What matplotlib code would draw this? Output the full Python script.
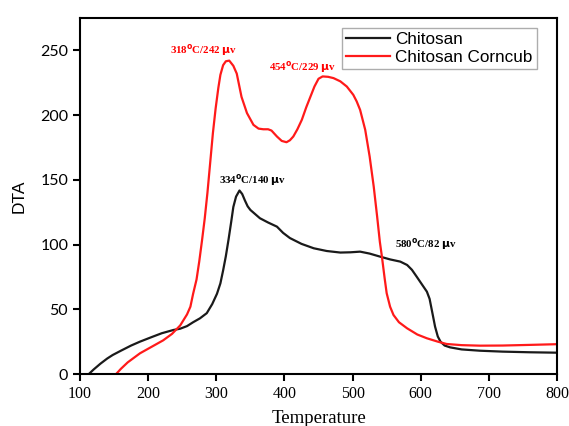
import matplotlib
matplotlib.use('Agg')
import matplotlib.pyplot as plt

# Chitosan DTA curve
temp_chitosan = [113, 120, 130, 140, 148, 160, 175, 188, 205, 220, 237, 247, 257, 266, 276,
                 286, 294, 301, 306, 310, 314, 318, 322, 325, 329, 334, 338, 342, 346, 350,
                 357, 364, 376, 389, 398, 408, 425, 443, 462, 482, 497, 511, 525, 540, 555,
                 570, 580, 587, 594, 602, 609, 613, 616, 619, 621, 625, 629, 635, 643, 660,
                 687, 720, 760, 797]
dta_chitosan = [0, 3.5, 8, 12, 14.7, 18, 22, 25, 28.5, 31.5, 34, 35, 37, 40, 43,
                47, 54, 62, 70, 80, 91, 104, 118, 129, 137, 141.7, 139, 134, 129.5, 126.7,
                123.5, 120.3, 117, 113.8, 109, 105, 100.5, 97.1, 95, 93.8, 94, 94.5, 93, 90.7, 88.5,
                86.8, 84.2, 80.5, 75.2, 69, 63.6, 58, 50, 42, 36.6, 29, 25, 22, 20.6, 19,
                18, 17.3, 16.8, 16.5]

# Chitosan Corncub DTA curve
temp_corncub = [153, 160, 170, 188, 205, 222, 235, 247, 257, 262, 266, 271, 275, 279,
                283, 287, 291, 295, 299, 303, 306, 310, 314, 319, 325, 330, 337, 345, 354.5,
                362, 369, 376, 381, 389, 396, 403, 408, 413, 419, 425.5, 432, 438, 444, 450,
                456, 464, 472, 482, 491.5, 501, 506, 511, 518.5, 525, 531, 536, 540, 543,
                547, 550, 555, 560, 568, 580, 595, 609, 625, 638, 660, 687, 720, 760, 797]
dta_corncub = [0, 4, 9, 16, 21, 26, 31, 37.5, 46, 52, 62, 73, 87, 103,
               120, 140, 163, 186, 205, 221, 231, 238.5, 241.5, 242, 238, 232, 214, 201.5, 192.4,
               189.5, 189, 189, 188, 183.4, 180, 179, 180.5, 183.4, 189, 196.3, 206, 214, 222, 228,
               229.8, 229.5, 228.5, 226, 222, 215.6, 210.5, 204, 188.6, 168, 144.7, 121.6, 102, 90.7,
               74, 62.4, 52, 45.6, 40, 35.3, 30.5, 27.6, 25, 23.2, 22.3, 21.9, 22, 22.5, 23]

# peak labels: (text, x, y, colour)
peak_labels = [
    (r'318$^{\mathbf{o}}$C/242 $\mathbf{\mu}$v', 282, 250, 'red'),
    (r'454$^{\mathbf{o}}$C/229 $\mathbf{\mu}$v', 426, 237, 'red'),
    (r'334$^{\mathbf{o}}$C/140 $\mathbf{\mu}$v', 353, 150, 'black'),
    (r'580$^{\mathbf{o}}$C/82 $\mathbf{\mu}$v', 607, 100.5, 'black'),
]

fig = plt.figure(figsize=(5.69, 4.26), dpi=100)
ax = fig.add_axes([0.1406, 0.122, 0.8384, 0.836])

ax.plot(temp_chitosan, dta_chitosan, color='#1a1a1a', lw=1.6, label='Chitosan')
ax.plot(temp_corncub, dta_corncub, color='#ff1a1a', lw=1.6, label='Chitosan Corncub')

for txt, x, y, c in peak_labels:
    ax.text(x, y, txt, color=c, ha='center', va='center', fontsize=7.8,
            fontweight='bold', family='Liberation Serif')

ax.set_xlim(100, 800)
ax.set_ylim(0, 275)
ax.set_xticks(range(100, 801, 100))
ax.set_yticks(range(0, 251, 50))
for sp in ax.spines.values():
    sp.set_linewidth(1.5)
ax.tick_params(axis='both', direction='out', width=1.5, length=5)
for lab in ax.get_xticklabels():
    lab.set_family('Liberation Serif')
    lab.set_fontsize(11.5)
for lab in ax.get_yticklabels():
    lab.set_family('Lato')
    lab.set_fontsize(11.5)

ax.set_xlabel('Temperature', family='Liberation Serif', fontsize=13.5, labelpad=6)
ax.set_ylabel('DTA', family='Liberation Sans', fontsize=12.5, labelpad=10)

leg = ax.legend(loc='upper right', bbox_to_anchor=(0.958, 0.973), fancybox=False,
                prop={'family': 'Liberation Sans', 'size': 12.3}, handlelength=2.6,
                borderpad=0.25, labelspacing=0.2, handletextpad=0.3, borderaxespad=0)
leg.get_frame().set_edgecolor('#999999')
leg.get_frame().set_linewidth(1.0)

fig.savefig('out.png', dpi=100)
